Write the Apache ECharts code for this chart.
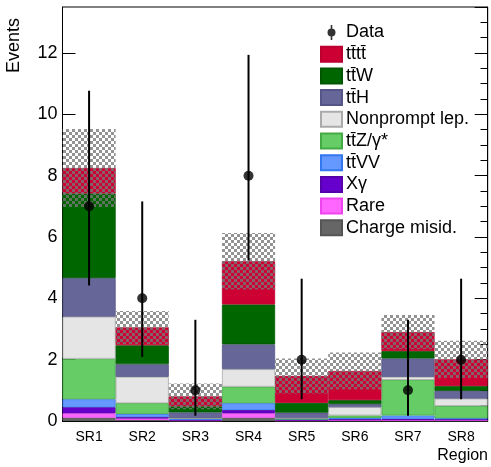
<!DOCTYPE html>
<html>
<head>
<meta charset="utf-8">
<script src="https://cdn.jsdelivr.net/npm/echarts@6/dist/echarts.min.js"></script>
<style>
  html, body { margin: 0; padding: 0; background: #fff; }
  #chart { width: 491px; height: 467px; }
</style>
</head>
<body>
<div id="chart"></div>
<script>
// values (stack order bottom -> top)
const regions = ['SR1', 'SR2', 'SR3', 'SR4', 'SR5', 'SR6', 'SR7', 'SR8'];
const chargeMisid = [0.11, 0.03, 0.01, 0.11, 0.01, 0.01, 0.01, 0.01];
const rare = [0.14, 0.05, 0.01, 0.14, 0.01, 0.02, 0.02, 0.02];
const xGamma = [0.20, 0.05, 0.02, 0.11, 0.02, 0.03, 0.04, 0.03];
const ttVV = [0.26, 0.10, 0.04, 0.22, 0.02, 0.04, 0.11, 0.03];
const ttZ = [1.32, 0.35, 0.01, 0.54, 0.01, 0.08, 1.16, 0.40];
const nonprompt = [1.37, 0.86, 0.01, 0.57, 0.02, 0.27, 0.10, 0.24];
const ttH = [1.26, 0.41, 0.18, 0.81, 0.18, 0.10, 0.60, 0.25];
const ttW = [2.76, 0.62, 0.20, 1.30, 0.32, 0.13, 0.24, 0.16];
const tttt = [0.83, 0.58, 0.32, 1.41, 0.88, 0.95, 0.62, 0.87];
const totalUnc = [1.27, 0.54, 0.42, 0.92, 0.57, 0.60, 0.56, 0.61];
const dataCounts = [7, 4, 1, 8, 2, null, 1, 2];
const dataLow = [4.42, 2.09, 0.17, 5.23, 0.71, null, 0.17, 0.71];
const dataHigh = [10.77, 7.16, 3.30, 11.94, 4.64, null, 3.30, 4.64];

const FONT = '"Liberation Sans", Arial, Helvetica, sans-serif';

const processes = [
  { name: 'Charge misid.', values: chargeMisid, color: '#666666', border: '#555555' },
  { name: 'Rare', values: rare, color: '#ff66ff', border: '#ee44ee' },
  { name: 'X\u03b3', values: xGamma, color: '#6600cc', border: '#5500aa' },
  { name: 'tt\u0304VV', values: ttVV, color: '#6699ff', border: '#3377ee' },
  { name: 'tt\u0304Z/\u03b3*', values: ttZ, color: '#66cc66', border: '#44aa44' },
  { name: 'Nonprompt lep.', values: nonprompt, color: '#e5e5e5', border: '#aaaaaa' },
  { name: 'tt\u0304H', values: ttH, color: '#666699', border: '#555588' },
  { name: 'tt\u0304W', values: ttW, color: '#006600', border: '#005500' },
  { name: 'tt\u0304tt\u0304', values: tttt, color: '#cc0033', border: '#bb0030' }
];

const totals = regions.map((r, i) => processes.reduce((s, p) => s + p.values[i], 0));
const uncBase = totals.map((t, i) => +(t - totalUnc[i]).toFixed(3));
const uncBand = totalUnc.map(u => +(2 * u).toFixed(3));

const series = [];
processes.forEach(p => {
  series.push({
    name: p.name,
    type: 'bar',
    stack: 'bkg',
    xAxisIndex: 0,
    yAxisIndex: 0,
    barWidth: '100%',
    barGap: '-100%',
    barCategoryGap: '0%',
    data: p.values,
    itemStyle: { color: p.color, borderColor: p.border, borderWidth: 0.8 },
    emphasis: { disabled: true },
    animation: false
  });
});

// uncertainty band: transparent base + hatched band
series.push({
  name: 'uncBase',
  type: 'bar',
  stack: 'unc',
  barWidth: '100%',
  barGap: '-100%',
  data: uncBase,
  itemStyle: { color: 'rgba(0,0,0,0)' },
  silent: true,
  animation: false
});
series.push({
  name: 'uncBand',
  type: 'bar',
  stack: 'unc',
  barWidth: '100%',
  barGap: '-100%',
  data: uncBand,
  itemStyle: {
    color: 'rgba(0,0,0,0)',
    decal: {
      symbol: 'rect',
      symbolSize: 1,
      color: 'rgba(120,120,120,0.8)',
      dashArrayX: [[2.25, 2.25], [0, 2.25, 2.25, 0]],
      dashArrayY: [2.25, 0],
      rotation: 0
    }
  },
  silent: true,
  animation: false
});

// data error bars
const errData = [];
regions.forEach((r, i) => {
  if (dataCounts[i] !== null) errData.push([i, dataLow[i], dataHigh[i]]);
});
series.push({
  name: 'DataErr',
  type: 'custom',
  z: 5,
  data: errData,
  renderItem: (params, api) => {
    const a = api.coord([api.value(0), api.value(1)]);
    const b = api.coord([api.value(0), api.value(2)]);
    return {
      type: 'line',
      shape: { x1: a[0], y1: a[1], x2: b[0], y2: b[1] },
      style: { stroke: '#000', lineWidth: 2 }
    };
  },
  animation: false
});
series.push({
  name: 'Data',
  type: 'scatter',
  z: 6,
  symbol: 'circle',
  symbolSize: 10,
  data: dataCounts.map(v => (v === null ? '-' : v)),
  itemStyle: { color: '#000' },
  animation: false
});

const legendNames = ['Data'].concat(processes.slice().reverse().map(p => p.name));

const option = {
  backgroundColor: '#fff',
  animation: false,
  grid: { left: 62.5, right: 3.3, top: 7, bottom: 46, show: true, borderColor: '#000', borderWidth: 1 },
  legend: {
    orient: 'vertical',
    left: 315,
    top: 18.5,
    itemWidth: 21,
    itemHeight: 15,
    itemGap: 3.7,
    selectedMode: false,
    textStyle: { fontFamily: FONT, fontSize: 18, color: '#000', lineHeight: 18, padding: [0, 0, 0, -1] },
    data: legendNames.map(n => n === 'Data'
      ? { name: n, icon: 'path://M9.7,0 L11.3,0 L11.3,15 L9.7,15 Z M10.5,3.5 A4,4 0 1,1 10.49,3.5 Z', itemStyle: { color: '#000' } }
      : { name: n, icon: 'rect' })
  },
  xAxis: [
    {
      type: 'category',
      data: regions,
      boundaryGap: true,
      axisLine: { lineStyle: { color: '#000' } },
      axisTick: { inside: true, length: 12, alignWithLabel: true, lineStyle: { color: '#000' } },
      axisLabel: { fontFamily: FONT, fontSize: 14, color: '#000', margin: 9 },
      splitLine: { show: false }
    },
    {
      type: 'category',
      data: regions,
      position: 'top',
      boundaryGap: true,
      axisLine: { lineStyle: { color: '#000' } },
      axisTick: { inside: true, length: 12, alignWithLabel: true, lineStyle: { color: '#000' } },
      axisLabel: { show: false },
      splitLine: { show: false }
    }
  ],
  yAxis: [
    {
      type: 'value', min: 0, max: 13.5, interval: 2,
      axisLine: { show: true, lineStyle: { color: '#000' } },
      axisTick: { show: true, inside: true, length: 13, lineStyle: { color: '#000' } },
      axisLabel: { fontFamily: FONT, fontSize: 18, color: '#000', margin: 5, showMaxLabel: false },
      splitLine: { show: false }
    },
    {
      type: 'value', min: 0, max: 13.5, interval: 0.5,
      axisLine: { show: false },
      axisTick: { show: true, inside: true, length: 7, lineStyle: { color: '#000' } },
      axisLabel: { show: false },
      splitLine: { show: false }
    },
    {
      type: 'value', min: 0, max: 13.5, interval: 2, position: 'right',
      axisLine: { show: true, lineStyle: { color: '#000' } },
      axisTick: { show: true, inside: true, length: 13, lineStyle: { color: '#000' } },
      axisLabel: { show: false },
      splitLine: { show: false }
    },
    {
      type: 'value', min: 0, max: 13.5, interval: 0.5, position: 'right',
      axisLine: { show: false },
      axisTick: { show: true, inside: true, length: 7, lineStyle: { color: '#000' } },
      axisLabel: { show: false },
      splitLine: { show: false }
    }
  ],
  graphic: [
    {
      type: 'text', x: 5.5, y: 18, rotation: Math.PI / 2,
      style: { text: 'Events', fontFamily: FONT, fontSize: 18, fill: '#000', align: 'right', verticalAlign: 'top' }
    },
    {
      type: 'text', x: 488, y: 456,
      style: { text: 'Region', fontFamily: FONT, fontSize: 16, fill: '#000', align: 'right', verticalAlign: 'middle' }
    }
  ],
  series: series
};

const chart = echarts.init(document.getElementById('chart'));
chart.setOption(option);
window.addEventListener('resize', () => {
  chart.resize();
});
</script>
</body>
</html>
